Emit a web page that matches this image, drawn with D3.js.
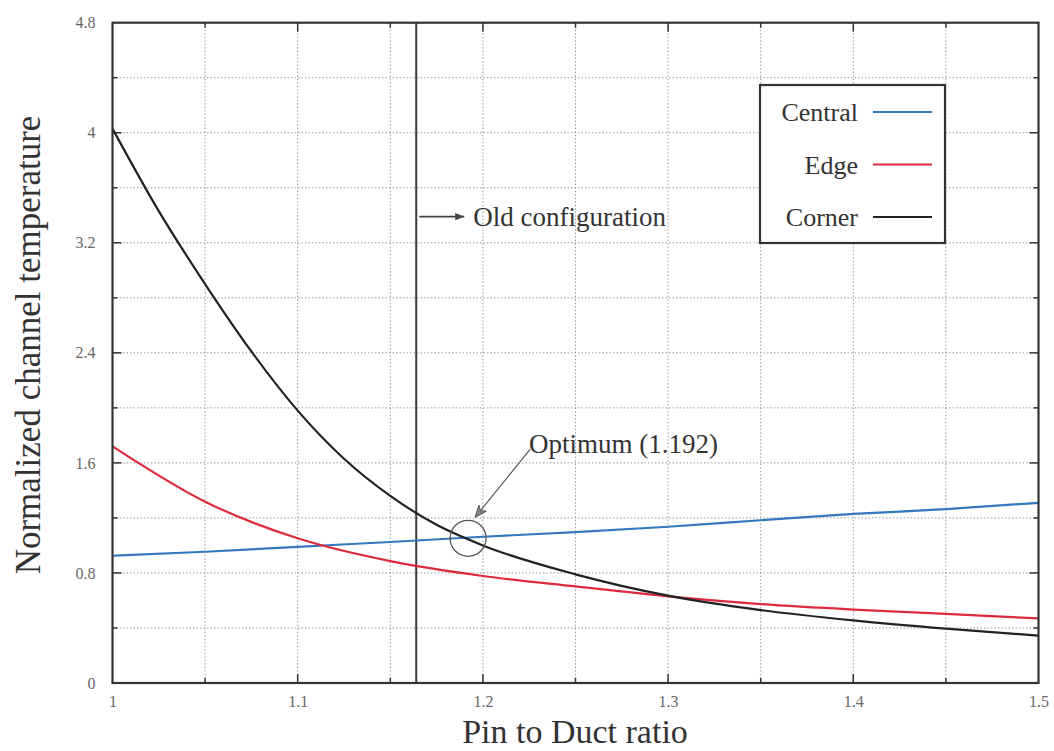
<!DOCTYPE html>
<html>
<head>
<meta charset="utf-8">
<script src="https://cdnjs.cloudflare.com/ajax/libs/d3/7.8.5/d3.min.js"></script>
<style>
  body { margin: 0; background: #fff; }
  text { font-family: "Liberation Serif", "Times New Roman", serif; }
</style>
</head>
<body>
<div class="chart"></div>
<script>
// Values
var xCorner = [1.0, 1.025, 1.05, 1.075, 1.1, 1.125, 1.15, 1.175, 1.2, 1.25, 1.3, 1.35, 1.4, 1.45, 1.5];
var yCorner = [4.03, 3.43, 2.9, 2.41, 1.98, 1.63, 1.36, 1.15, 1.0, 0.79, 0.635, 0.53, 0.455, 0.395, 0.345];

var xRatio = [1.0, 1.05, 1.1, 1.15, 1.2, 1.25, 1.3, 1.35, 1.4, 1.45, 1.5];
var yCentral = [0.925, 0.954, 0.99, 1.025, 1.063, 1.097, 1.136, 1.183, 1.229, 1.264, 1.31];
var yEdge = [1.72, 1.318, 1.052, 0.886, 0.778, 0.702, 0.63, 0.574, 0.534, 0.502, 0.47];

var xTicks = [1, 1.1, 1.2, 1.3, 1.4, 1.5];
var yTicks = [0, 0.8, 1.6, 2.4, 3.2, 4, 4.8];
var xGrid = [1.05, 1.1, 1.15, 1.2, 1.25, 1.3, 1.35, 1.4, 1.45];
var yGrid = [0.4, 0.8, 1.2, 1.6, 2.0, 2.4, 2.8, 3.2, 3.6, 4.0, 4.4];

var seriesNames = ["Central", "Edge", "Corner"];
var seriesColors = ["#3577bd", "#dd2a3a", "#222222"];

var oldConfig = 1.164;
var oldConfigLabelY = 3.39;
var optimum = { x: 1.192, y: 1.052 };

var svgWidth = 1054;
var svgHeight = 751;

var margin = { top: 22.7, right: 15.5, bottom: 68, left: 112.5 };
var width = svgWidth - margin.left - margin.right;
var height = svgHeight - margin.top - margin.bottom;

var svg = d3.select(".chart")
  .append("svg")
  .attr("width", svgWidth)
  .attr("height", svgHeight)
  .attr("font-family", "Liberation Serif, serif");

var defs = svg.append("defs");
defs.append("marker")
  .attr("id", "arrow")
  .attr("viewBox", "0 0 10 10")
  .attr("refX", 10)
  .attr("refY", 5)
  .attr("markerWidth", 9)
  .attr("markerHeight", 9)
  .attr("markerUnits", "userSpaceOnUse")
  .attr("orient", "auto")
  .append("path")
  .attr("d", "M0,1 L10,5 L0,9 z")
  .attr("fill", "#444");
defs.append("marker")
  .attr("id", "arrowOpen")
  .attr("viewBox", "0 0 10 10")
  .attr("refX", 10)
  .attr("refY", 5)
  .attr("markerWidth", 12)
  .attr("markerHeight", 12)
  .attr("markerUnits", "userSpaceOnUse")
  .attr("orient", "auto")
  .append("path")
  .attr("d", "M0,1 L10,5 L0,9 L3,5 z")
  .attr("fill", "#888")
  .attr("stroke", "#555")
  .attr("stroke-width", 0.8);

var chartGroup = svg.append("g")
  .attr("transform", `translate(${margin.left}, ${margin.top})`);

var x = d3.scaleLinear().domain([1, 1.5]).range([0, width]);
var y = d3.scaleLinear().domain([0, 4.8]).range([height, 0]);

// Grid
chartGroup.append("g")
  .selectAll("line")
  .data(xGrid)
  .enter()
  .append("line")
  .attr("x1", d => x(d)).attr("x2", d => x(d))
  .attr("y1", 0).attr("y2", height)
  .attr("stroke", "#9a9a9a")
  .attr("stroke-width", 1)
  .attr("stroke-dasharray", "1.5,2");

chartGroup.append("g")
  .selectAll("line")
  .data(yGrid)
  .enter()
  .append("line")
  .attr("y1", d => y(d)).attr("y2", d => y(d))
  .attr("x1", 0).attr("x2", width)
  .attr("stroke", "#9a9a9a")
  .attr("stroke-width", 1)
  .attr("stroke-dasharray", "1.5,2");

// Inner ticks on all four sides
var tickG = chartGroup.append("g").attr("stroke", "#333").attr("stroke-width", 1.5);
yGrid.forEach(function(v) {
  var major = Math.abs(Math.round(v / 0.8) * 0.8 - v) < 1e-6;
  var len = major ? 9 : 5;
  tickG.append("line").attr("x1", 0).attr("x2", len).attr("y1", y(v)).attr("y2", y(v));
  tickG.append("line").attr("x1", width - len).attr("x2", width).attr("y1", y(v)).attr("y2", y(v));
});
xGrid.forEach(function(v) {
  var major = Math.abs(Math.round(v / 0.1) * 0.1 - v) < 1e-6;
  var len = major ? 9 : 5;
  tickG.append("line").attr("x1", x(v)).attr("x2", x(v)).attr("y1", height).attr("y2", height - len);
  tickG.append("line").attr("x1", x(v)).attr("x2", x(v)).attr("y1", 0).attr("y2", len);
});

// Axes (labels only, ticks drawn above)
var bottomAxis = d3.axisBottom(x).tickValues(xTicks).tickSize(0).tickPadding(13)
  .tickFormat(d => String(+d.toFixed(1)));
var leftAxis = d3.axisLeft(y).tickValues(yTicks).tickSize(0).tickPadding(17)
  .tickFormat(d => String(+d.toFixed(1)));

var gx = chartGroup.append("g")
  .attr("transform", `translate(0, ${height})`)
  .call(bottomAxis);
var gy = chartGroup.append("g").call(leftAxis);
[gx, gy].forEach(function(g) {
  g.attr("font-family", "Liberation Serif, serif");
  g.select(".domain").remove();
  g.selectAll("text")
    .attr("font-size", 16)
    .attr("fill", "#666");
});

// Old configuration line
chartGroup.append("line")
  .attr("x1", x(oldConfig)).attr("x2", x(oldConfig))
  .attr("y1", 0).attr("y2", height)
  .attr("stroke", "#3a3a3a")
  .attr("stroke-width", 2);

// Curves
var line = d3.line().curve(d3.curveMonotoneX);
var seriesData = [
  d3.zip(xRatio, yCentral),
  d3.zip(xRatio, yEdge),
  d3.zip(xCorner, yCorner)
];
seriesData.forEach(function(pts, i) {
  chartGroup.append("path")
    .attr("d", line(pts.map(p => [x(p[0]), y(p[1])])))
    .attr("fill", "none")
    .attr("stroke", seriesColors[i])
    .attr("stroke-width", 2.2);
});

// Frame
chartGroup.append("rect")
  .attr("width", width).attr("height", height)
  .attr("fill", "none")
  .attr("stroke", "#333")
  .attr("stroke-width", 2.2);

// Old configuration annotation
var oy = y(oldConfigLabelY);
chartGroup.append("line")
  .attr("x1", x(oldConfig) + 3).attr("x2", x(oldConfig) + 48)
  .attr("y1", oy).attr("y2", oy)
  .attr("stroke", "#444")
  .attr("stroke-width", 1.6)
  .attr("marker-end", "url(#arrow)");
chartGroup.append("text")
  .attr("x", x(oldConfig) + 57)
  .attr("y", oy)
  .attr("dy", "0.35em")
  .attr("font-size", 27)
  .attr("fill", "#333")
  .text("Old configuration");

// Optimum annotation
chartGroup.append("circle")
  .attr("cx", x(optimum.x)).attr("cy", y(optimum.y))
  .attr("r", 18)
  .attr("fill", "none")
  .attr("stroke", "#555")
  .attr("stroke-width", 1.3);
chartGroup.append("line")
  .attr("x1", x(optimum.x) + 62).attr("y1", y(optimum.y) - 89)
  .attr("x2", x(optimum.x) + 7).attr("y2", y(optimum.y) - 21)
  .attr("stroke", "#555")
  .attr("stroke-width", 1.2)
  .attr("marker-end", "url(#arrowOpen)");
chartGroup.append("text")
  .attr("x", x(optimum.x) + 61)
  .attr("y", y(optimum.y) - 95)
  .attr("dy", "0.35em")
  .attr("font-size", 27)
  .attr("fill", "#333")
  .text("Optimum (1.192)");

// Legend
var legend = svg.append("g").attr("transform", "translate(760, 85)");
legend.append("rect")
  .attr("width", 185).attr("height", 158)
  .attr("fill", "#fff")
  .attr("stroke", "#333")
  .attr("stroke-width", 2.2);
seriesNames.forEach(function(name, i) {
  var ly = 27 + i * 52.5;
  legend.append("text")
    .attr("x", 98).attr("y", ly)
    .attr("dy", "0.35em")
    .attr("text-anchor", "end")
    .attr("font-size", 26)
    .attr("fill", "#333")
    .text(name);
  legend.append("line")
    .attr("x1", 113).attr("x2", 172)
    .attr("y1", ly).attr("y2", ly)
    .attr("stroke", seriesColors[i])
    .attr("stroke-width", 2.2);
});

// Axis titles
svg.append("text")
  .attr("transform", "translate(40, 345) rotate(-90)")
  .attr("text-anchor", "middle")
  .attr("font-size", 35)
  .attr("fill", "#333")
  .text("Normalized channel temperature");

svg.append("text")
  .attr("x", 575)
  .attr("y", 743)
  .attr("text-anchor", "middle")
  .attr("font-size", 34)
  .attr("fill", "#333")
  .text("Pin to Duct ratio");
</script>
</body>
</html>
